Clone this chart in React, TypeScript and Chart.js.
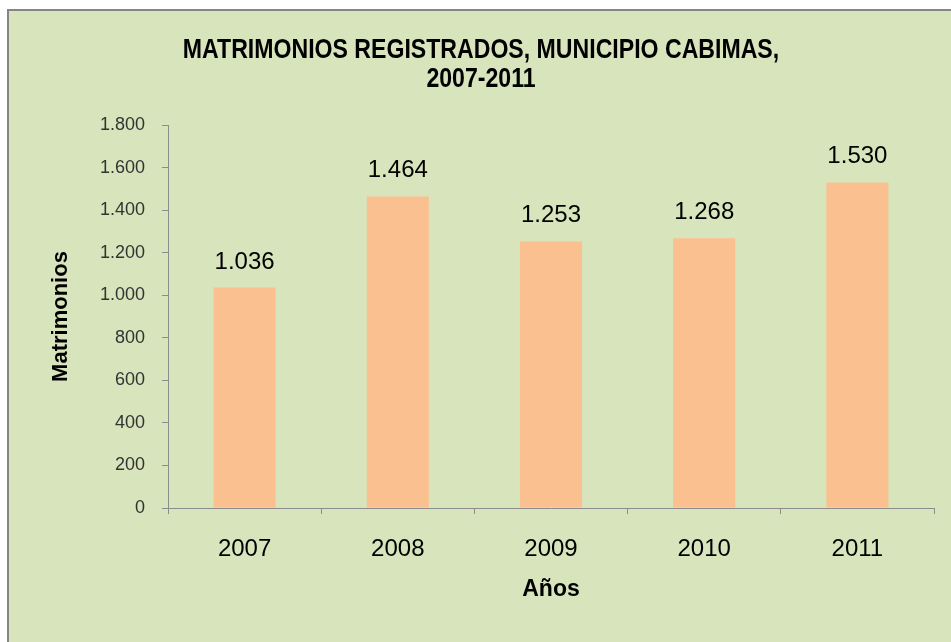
import React, { useEffect, useRef } from "react";
import { Chart, registerables } from "chart.js";

Chart.register(...registerables);

const categories = ["2007", "2008", "2009", "2010", "2011"];
const matrimonios = [1036, 1464, 1253, 1268, 1530];
const yTicks = [0, 200, 400, 600, 800, 1000, 1200, 1400, 1600, 1800];
const titleLines = ["MATRIMONIOS REGISTRADOS, MUNICIPIO CABIMAS,", "2007-2011"];
const yTitle = "Matrimonios";
const xTitle = "Años";

const fmt = (v: number) => {
  const s = String(Math.round(v));
  return s.replace(/\B(?=(\d{3})+(?!\d))/g, ".");
};

const bgPlugin = {
  id: "bgFrame",
  beforeDraw(chart: any) {
    const { ctx, width, height } = chart;
    ctx.save();
    ctx.fillStyle = "#ffffff";
    ctx.fillRect(0, 0, width, height);
    ctx.fillStyle = "#858585";
    ctx.fillRect(7, 9, width - 7, height - 9);
    ctx.fillStyle = "#D8E4BC";
    ctx.fillRect(9, 11, width - 9, height - 11);
    ctx.restore();
  },
};

// Title drawn as real text, horizontally condensed like Arial Narrow Bold
const titlePlugin = {
  id: "condensedTitle",
  afterDraw(chart: any) {
    const { ctx } = chart;
    ctx.save();
    ctx.font = "bold 28px 'Liberation Sans', Arial, sans-serif";
    ctx.fillStyle = "#000000";
    ctx.textAlign = "center";
    ctx.textBaseline = "alphabetic";
    const cx = 481;
    const sx = 0.825;
    const baselines = [58, 87];
    titleLines.forEach((line, i) => {
      ctx.save();
      ctx.translate(cx, baselines[i]);
      ctx.scale(sx, 1);
      ctx.fillText(line, 0, 0);
      ctx.restore();
    });
    ctx.restore();
  },
};

const labelPlugin = {
  id: "valueLabels",
  afterDatasetsDraw(chart: any) {
    const { ctx } = chart;
    const meta = chart.getDatasetMeta(0);
    ctx.save();
    ctx.font = "24px 'Liberation Sans', Arial, sans-serif";
    ctx.fillStyle = "#000000";
    ctx.textAlign = "center";
    ctx.textBaseline = "alphabetic";
    meta.data.forEach((bar: any, i: number) => {
      ctx.fillText(fmt(matrimonios[i]), bar.x, bar.y - 19);
    });
    ctx.restore();
  },
};

export default function App() {
  const ref = useRef<HTMLCanvasElement | null>(null);
  useEffect(() => {
    if (!ref.current) return;
    const chart = new Chart(ref.current, {
      type: "bar",
      data: {
        labels: categories,
        datasets: [
          {
            data: matrimonios,
            backgroundColor: "#FAC090",
            borderWidth: 0,
            categoryPercentage: 1,
            barPercentage: 0.405,
          },
        ],
      },
      plugins: [bgPlugin, labelPlugin, titlePlugin],
      options: {
        responsive: false,
        animation: false,
        layout: { padding: { left: 9, top: 125, right: 17, bottom: 0 } },
        plugins: {
          legend: { display: false },
          tooltip: { enabled: false },
          title: { display: false },
        },
        scales: {
          x: {
            afterFit: (s: any) => {
              s.height = 134;
            },
            grid: {
              drawOnChartArea: false,
              drawTicks: true,
              tickLength: 6,
              color: "#8c8c8c",
            },
            border: { display: true, color: "#8c8c8c", width: 1 },
            ticks: {
              color: "#000000",
              padding: 21,
              font: { family: "'Liberation Sans', Arial, sans-serif", size: 24 },
            },
            title: {
              display: true,
              text: xTitle,
              color: "#000000",
              font: { family: "'Liberation Sans', Arial, sans-serif", size: 23, weight: "bold" },
              padding: { top: 0, bottom: 39 },
            },
          },
          y: {
            min: 0,
            max: 1800,
            afterFit: (s: any) => {
              s.width = 159;
            },
            afterBuildTicks: (s: any) => {
              s.ticks = yTicks.map((v) => ({ value: v }));
            },
            grid: {
              drawOnChartArea: false,
              drawTicks: true,
              tickLength: 6,
              color: "#8c8c8c",
            },
            border: { display: true, color: "#8c8c8c", width: 1 },
            ticks: {
              color: "#333333",
              padding: 17,
              font: { family: "'Liberation Sans', Arial, sans-serif", size: 18 },
              callback: (v: any) => fmt(Number(v)),
            },
            title: {
              display: true,
              text: yTitle,
              color: "#000000",
              font: { family: "'Liberation Sans', Arial, sans-serif", size: 22, weight: "bold" },
              padding: { top: 39, bottom: 0 },
            },
          },
        },
      },
    });
    return () => chart.destroy();
  }, []);
  return (
    <div style={{ position: "absolute", left: 0, top: 0, width: 951, height: 642 }}>
      <canvas ref={ref} width={951} height={642} style={{ display: "block", width: 951, height: 642 }} />
    </div>
  );
}
